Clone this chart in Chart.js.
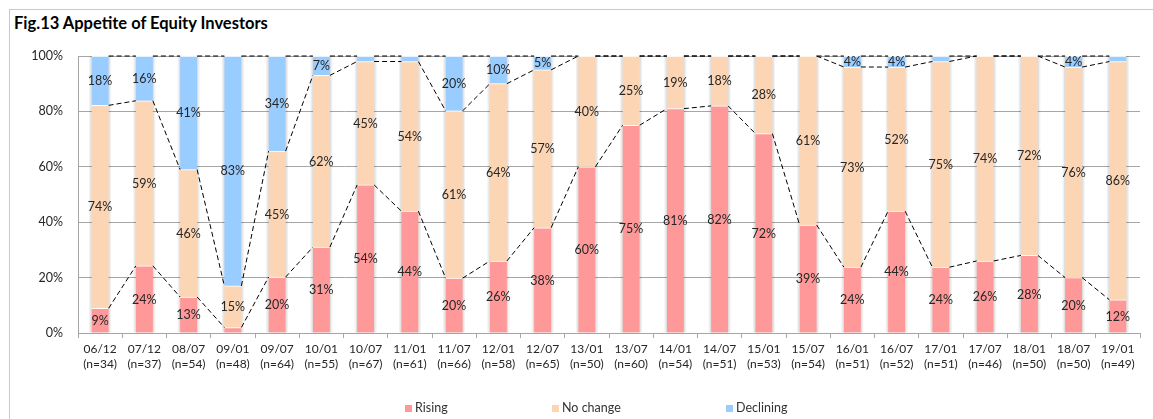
<!DOCTYPE html>
<html>
<head>
<meta charset="utf-8">
<title>Appetite of Equity Investors</title>
<script src="https://cdn.jsdelivr.net/npm/chart.js@4.4.1/dist/chart.umd.min.js"></script>
<style>
  html, body { margin: 0; padding: 0; background: #fff; width: 1153px; height: 419px; overflow: hidden; }
  body { font-family: Lato, "Open Sans", sans-serif; position: relative; }
  #frame { position: absolute; left: 9px; top: 9px; width: 1300px; height: 600px;
           border-top: 1px solid #c9c9c9; border-left: 1px solid #c9c9c9; }
  #title { position: absolute; left: 14px; top: 13px; font: bold 16.5px Lato, sans-serif; color: #000; white-space: nowrap; }
  #chart { position: absolute; left: 0; top: 0; }
  .lg { position: absolute; top: 400px; height: 16px; line-height: 16px; font: 12.5px Lato, sans-serif; color: #333; white-space: nowrap; }
  .lg i { display: inline-block; width: 7px; height: 7px; margin-right: 3px; vertical-align: 0px; }
</style>
</head>
<body>
<div id="frame"></div>
<div id="title">Fig.13 Appetite of Equity Investors</div>
<canvas id="chart" width="1153" height="419"></canvas>
<div class="lg" style="left:405px"><i style="background:#ff9999"></i>Rising</div>
<div class="lg" style="left:552px"><i style="background:#fcd5b4"></i>No change</div>
<div class="lg" style="left:726px"><i style="background:#99ccff"></i>Declining</div>

<script>
// Survey periods (yy/mm) and number of respondents
const periods = ['06/12','07/12','08/07','09/01','09/07','10/01','10/07','11/01','11/07','12/01','12/07','13/01',
                 '13/07','14/01','14/07','15/01','15/07','16/01','16/07','17/01','17/07','18/01','18/07','19/01'];
const sampleSizes = [34,37,54,48,64,55,67,61,66,58,65,50,60,54,51,53,54,51,52,51,46,50,50,49];

// Share of answers (%) per period
const rising    = [9,24,13,2,20,31,54,44,20,26,38,60,75,81,82,72,39,24,44,24,26,28,20,12];
const noChange  = [74,59,46,15,45,62,45,54,61,64,57,40,25,19,18,28,61,73,52,75,74,72,76,86];
const declining = [18,16,41,83,34,7,2,2,20,10,5,0,0,0,0,0,0,4,4,2,0,0,4,2];

const yTicks = [0, 20, 40, 60, 80, 100];

// Each column is stacked to 100%, like a 100% stacked column chart
const totals = rising.map((v, i) => v + noChange[i] + declining[i]);
const toShare = arr => arr.map((v, i) => v / totals[i] * 100);
const categoryLabels = periods.map((p, i) => [p, '(n=' + sampleSizes[i] + ')']);

const FONT = 'Lato, "Open Sans", sans-serif';
const TEXT = '#262626';
const GRID = '#a6a6a6';

// Soft grey edge behind every column
const columnShade = {
  id: 'columnShade',
  beforeDatasetsDraw(chart) {
    const ctx = chart.ctx;
    const base = chart.getDatasetMeta(0).data;
    const top = chart.getDatasetMeta(chart.data.datasets.length - 1).data;
    ctx.save();
    base.forEach((bar, i) => {
      const y0 = top[i].y, h = bar.base - y0, half = bar.width / 2;
      ctx.fillStyle = 'rgba(0,0,0,0.06)';
      ctx.fillRect(bar.x - half - 2.5, y0, bar.width + 5, h);
      ctx.fillStyle = 'rgba(0,0,0,0.07)';
      ctx.fillRect(bar.x - half - 1.2, y0, bar.width + 2.4, h);
    });
    ctx.restore();
  }
};

// Dashed series lines joining the segment tops of neighbouring columns
const seriesLines = {
  id: 'seriesLines',
  afterDatasetsDraw(chart) {
    const ctx = chart.ctx;
    ctx.save();
    ctx.strokeStyle = '#000';
    ctx.lineWidth = 1;
    ctx.setLineDash([5, 3]);
    chart.data.datasets.forEach((ds, d) => {
      const bars = chart.getDatasetMeta(d).data;
      ctx.beginPath();
      for (let i = 0; i < bars.length - 1; i++) {
        const a = bars[i], b = bars[i + 1];
        ctx.moveTo(a.x + a.width / 2, a.y);
        ctx.lineTo(b.x - b.width / 2, b.y);
      }
      ctx.stroke();
    });
    ctx.restore();
  }
};

// Percentage labels centred in each segment
const segmentLabels = {
  id: 'segmentLabels',
  afterDatasetsDraw(chart) {
    const ctx = chart.ctx;
    ctx.save();
    ctx.font = '12.5px ' + FONT;
    ctx.fillStyle = TEXT;
    ctx.textAlign = 'center';
    ctx.textBaseline = 'middle';
    chart.data.datasets.forEach((ds, d) => {
      chart.getDatasetMeta(d).data.forEach((bar, i) => {
        const v = ds.rawValues[i];
        if (v < 3) return;
        ctx.fillText(v + '%', bar.x, (bar.y + bar.base) / 2 + 0.5);
      });
    });
    ctx.restore();
  }
};

function segment(label, values, colour) {
  return {
    label,
    data: toShare(values),
    rawValues: values,
    backgroundColor: colour,
    borderColor: '#ffffff',
    borderWidth: { top: 1, right: 0, bottom: 0, left: 0 },
    borderSkipped: false,
    barThickness: 17,
    stack: 'answers'
  };
}

function draw() {
  new Chart(document.getElementById('chart'), {
    type: 'bar',
    data: {
      labels: categoryLabels,
      datasets: [
        segment('Rising', rising, '#ff9999'),
        segment('No change', noChange, '#fcd5b4'),
        segment('Declining', declining, '#99ccff')
      ]
    },
    options: {
      responsive: false,
      animation: false,
      devicePixelRatio: 1,
      layout: { padding: { left: 0, right: 13, top: 56, bottom: 46 } },
      plugins: { legend: { display: false }, tooltip: { enabled: false }, title: { display: false } },
      scales: {
        x: {
          stacked: true,
          offset: true,
          grid: { display: true, drawOnChartArea: false, drawTicks: true, tickLength: 5, color: GRID, offset: true },
          border: { display: true, color: GRID },
          ticks: { color: TEXT, font: { family: FONT, size: 12, lineHeight: 1.25 }, padding: 4, maxRotation: 0, autoSkip: false },
          afterFit(scale) { scale.height = 40; }
        },
        y: {
          stacked: true,
          min: 0,
          max: 100,
          afterBuildTicks(scale) { scale.ticks = yTicks.map(v => ({ value: v })); },
          grid: { color: GRID, drawTicks: false },
          border: { display: true, color: GRID },
          ticks: { color: TEXT, font: { family: FONT, size: 12.5 }, padding: 15, callback: v => v + '%' },
          afterFit(scale) { scale.width = 78; }
        }
      }
    },
    plugins: [columnShade, seriesLines, segmentLabels]
  });
}

const ready = document.fonts && document.fonts.load
  ? Promise.all([document.fonts.load('12px Lato'), document.fonts.load('bold 16px Lato')]).catch(() => {})
  : Promise.resolve();
ready.then(draw);
</script>
</body>
</html>
